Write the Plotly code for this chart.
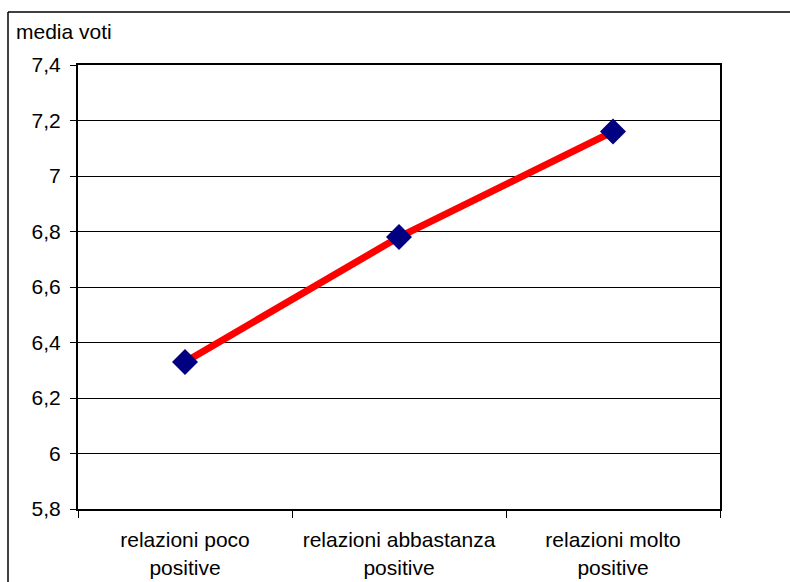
import plotly.graph_objects as go

# Average marks by quality of relationships
categorie = ["relazioni poco<br>positive", "relazioni abbastanza<br>positive", "relazioni molto<br>positive"]
media_voti = [6.33, 6.78, 7.16]

y_tick_vals = [5.8, 6.0, 6.2, 6.4, 6.6, 6.8, 7.0, 7.2, 7.4]
y_tick_text = ["5,8", "6", "6,2", "6,4", "6,6", "6,8", "7", "7,2", "7,4"]

FONT = "Arial, Liberation Sans, sans-serif"
FS = 21

fig = go.Figure()
fig.add_trace(go.Scatter(
    x=categorie,
    y=media_voti,
    mode="lines+markers",
    line=dict(color="#ff0000", width=7),
    marker=dict(symbol="diamond", size=20, color="#000080",
                line=dict(width=0)),
    showlegend=False,
    cliponaxis=False,
))

W, H = 790, 582
L, R, T, B = 78, 70, 65, 73
pw, ph = W - L - R, H - T - B

fig.update_layout(
    width=W, height=H,
    margin=dict(l=L, r=R, t=T, b=B, pad=0, autoexpand=False),
    paper_bgcolor="white",
    plot_bgcolor="white",
    font=dict(family=FONT, size=FS, color="black"),
    separators=",.",
    xaxis=dict(
        type="category",
        range=[-0.5, len(categorie) - 0.5],
        tickson="boundaries",
        ticks="outside", ticklen=7, tickwidth=1, tickcolor="black",
        showline=True, linecolor="black", linewidth=2, mirror=True,
        showgrid=False,
        tickfont=dict(family=FONT, size=FS, color="black"),
        ticklabelstandoff=11,
        automargin=False,
        fixedrange=True,
    ),
    yaxis=dict(
        range=[5.8, 7.4],
        tickvals=y_tick_vals, ticktext=y_tick_text,
        ticks="outside", ticklen=6, tickwidth=1, tickcolor="black",
        showline=True, linecolor="black", linewidth=2, mirror=True,
        showgrid=True, gridcolor="black", gridwidth=1,
        zeroline=False,
        tickfont=dict(family=FONT, size=FS, color="black"),
        ticklabelstandoff=5,
        automargin=False,
        fixedrange=True,
    ),
)

# axis caption at the top left
fig.add_annotation(
    text="media voti",
    xref="paper", yref="paper",
    x=(14 - L) / pw, y=1 + (T - 31) / ph,
    xanchor="left", yanchor="middle",
    showarrow=False,
    font=dict(family=FONT, size=FS, color="black"),
)

# outer chart frame (top and left edges)
fx = (8 - L) / pw
fy = 1 + (T - 12) / ph
fig.add_shape(type="line", xref="paper", yref="paper",
              x0=fx, y0=fy, x1=1 + (R + 10) / pw, y1=fy,
              line=dict(color="black", width=1.5))
fig.add_shape(type="line", xref="paper", yref="paper",
              x0=fx, y0=fy, x1=fx, y1=-(B + 10) / ph,
              line=dict(color="black", width=1.5))

fig.write_html("out.html")
